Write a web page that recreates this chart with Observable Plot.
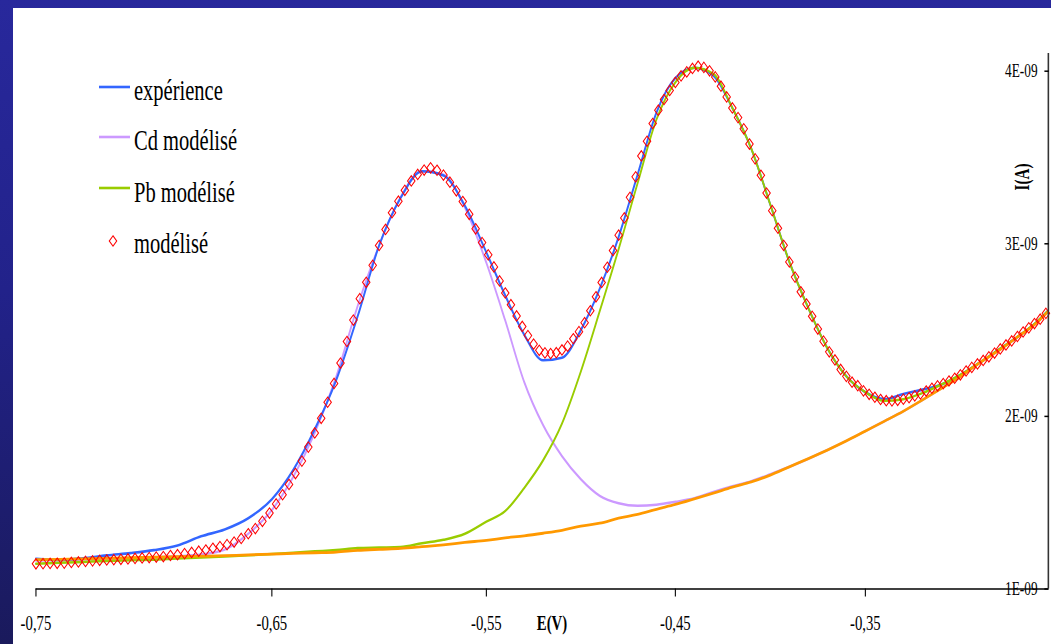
<!DOCTYPE html>
<html><head><meta charset="utf-8">
<script src="https://cdn.jsdelivr.net/npm/d3@7"></script>
<script src="https://cdn.jsdelivr.net/npm/@observablehq/plot@0.6"></script>
<style>
html,body{margin:0;padding:0;}
body{width:1051px;height:644px;overflow:hidden;position:relative;
  background:linear-gradient(to bottom,#28289c 0%,#22228a 45%,#1a1a5c 100%);}
#chart{position:absolute;left:13px;top:8px;width:1038px;height:636px;background:#fff;}
</style></head>
<body><div id="chart"></div>
<script>
// ---------- data ----------
const tickE = [-0.75, -0.65, -0.55, -0.45, -0.35];
const tickLabels = ["-0,75", "-0,65", "-0,55", "-0,45", "-0,35"];
const yTicks = [1, 2, 3, 4];               // ×1E-09 A
const yTickLabels = ["1E-09", "2E-09", "3E-09", "4E-09"];
const xEnd = -0.2537;

const seriesNames = ["expérience", "Cd modélisé", "Pb modélisé", "modélisé"];

const E_lines = [-0.75,-0.74,-0.73,-0.72,-0.71,-0.70,-0.69,-0.68,-0.67,-0.66,-0.65,-0.64,-0.63,-0.62,-0.61,-0.60,-0.59,-0.58,-0.57,-0.56,-0.55,-0.54,-0.53,-0.52,-0.51,-0.50,-0.49,-0.48,-0.47,-0.46,-0.45,-0.44,-0.43,-0.42,-0.41,-0.40,-0.39,-0.38,-0.37,-0.36,-0.35,-0.34,-0.33,-0.32,-0.31,-0.30,-0.29,-0.28,-0.27,-0.26,-0.254];

const I_exp = [1.175,1.168,1.178,1.195,1.208,1.225,1.252,1.305,1.345,1.41,1.52,1.69,1.925,2.21,2.58,2.99,3.265,3.42,3.396,3.22,2.95,2.70,2.474,2.325,2.34,2.50,2.74,3.04,3.40,3.76,3.96,4.02,3.975,3.787,3.55,3.226,2.895,2.627,2.395,2.232,2.14,2.10,2.13,2.155,2.185,2.24,2.31,2.385,2.46,2.545,2.61];

const I_cd = [1.165,1.168,1.171,1.175,1.178,1.184,1.19,1.20,1.228,1.32,1.457,1.65,1.905,2.23,2.64,2.99,3.27,3.42,3.40,3.21,2.89,2.555,2.20,1.95,1.77,1.636,1.54,1.497,1.482,1.488,1.505,1.526,1.562,1.595,1.625,1.665,1.708,1.755,1.805,1.858,1.915,1.972,2.03,2.095,2.162,2.23,2.31,2.38,2.46,2.54,2.605];

const I_pb = [1.147,1.152,1.157,1.162,1.166,1.17,1.177,1.183,1.189,1.195,1.203,1.21,1.218,1.226,1.237,1.24,1.243,1.265,1.285,1.32,1.39,1.452,1.585,1.745,1.958,2.26,2.61,2.97,3.35,3.72,3.935,4.02,3.985,3.787,3.55,3.226,2.895,2.627,2.395,2.232,2.14,2.09,2.10,2.135,2.185,2.24,2.31,2.385,2.46,2.545,2.61];

const I_base = [1.17,1.172,1.175,1.178,1.181,1.184,1.187,1.19,1.193,1.198,1.202,1.206,1.21,1.214,1.224,1.23,1.235,1.245,1.256,1.27,1.282,1.296,1.308,1.323,1.34,1.364,1.381,1.41,1.432,1.462,1.49,1.522,1.555,1.59,1.62,1.66,1.708,1.755,1.805,1.858,1.915,1.972,2.03,2.095,2.162,2.23,2.31,2.38,2.46,2.54,2.605];

const E_model = [-0.750,-0.747,-0.744,-0.741,-0.738,-0.735,-0.732,-0.729,-0.726,-0.723,-0.720,-0.717,-0.714,-0.711,-0.708,-0.705,-0.702,-0.699,-0.696,-0.693,-0.690,-0.687,-0.684,-0.681,-0.678,-0.675,-0.672,-0.669,-0.666,-0.663,-0.660,-0.657,-0.654,-0.651,
-0.648,-0.645,-0.642,-0.639,-0.636,-0.633,-0.630,-0.627,-0.624,-0.621,-0.618,-0.615,-0.612,-0.609,-0.606,-0.603,-0.600,-0.597,-0.594,-0.591,-0.588,-0.585,-0.582,-0.579,-0.576,-0.573,-0.570,-0.567,-0.564,-0.561,-0.558,-0.555,-0.552,
-0.549,-0.546,-0.543,-0.540,-0.537,-0.534,-0.531,-0.528,-0.525,-0.522,-0.519,-0.516,-0.513,-0.510,-0.507,-0.504,-0.501,-0.498,-0.495,-0.492,-0.489,-0.486,-0.483,-0.480,-0.477,-0.474,-0.471,-0.468,-0.465,-0.462,-0.459,-0.456,-0.453,
-0.450,-0.447,-0.444,-0.441,-0.438,-0.435,-0.432,-0.429,-0.426,-0.423,-0.420,-0.417,-0.414,-0.411,-0.408,-0.405,-0.402,-0.399,-0.396,-0.393,-0.390,-0.387,-0.384,-0.381,-0.378,-0.375,-0.372,-0.369,-0.366,-0.363,-0.360,-0.357,-0.354,-0.351,-0.348,-0.345,-0.342,-0.339,-0.336,-0.333,-0.330,-0.327,-0.324,-0.321,-0.318,-0.315,-0.312,-0.309,-0.306,-0.303,-0.300,-0.297,-0.294,-0.291,-0.288,-0.285,-0.282,-0.279,-0.276,-0.273,-0.270,-0.267,-0.264,-0.261,-0.258,-0.255];

const I_model = [1.146,1.147,1.148,1.149,1.150,1.154,1.157,1.160,1.163,1.166,1.168,1.170,1.172,1.174,1.177,1.180,1.182,1.185,1.188,1.194,1.199,1.205,1.212,1.219,1.226,1.236,1.246,1.257,1.272,1.293,1.320,1.350,1.392,1.440,
1.493,1.546,1.606,1.669,1.741,1.822,1.904,1.989,2.082,2.191,2.309,2.434,2.558,2.682,2.777,2.875,2.990,3.083,3.180,3.247,3.310,3.364,3.402,3.427,3.440,3.426,3.398,3.357,3.307,3.245,3.171,3.087,3.007,
2.936,2.866,2.785,2.715,2.647,2.582,2.521,2.468,2.419,2.383,2.368,2.364,2.369,2.385,2.407,2.450,2.491,2.543,2.612,2.693,2.776,2.864,2.961,3.050,3.150,3.269,3.388,3.509,3.594,3.697,3.774,3.836,3.888,
3.935,3.973,3.996,4.016,4.029,4.022,4.002,3.967,3.913,3.851,3.787,3.731,3.666,3.578,3.492,3.397,3.294,3.192,3.090,2.991,2.895,2.807,2.722,2.651,2.580,2.506,2.436,2.374,2.327,2.272,2.232,2.198,2.178,2.148,2.128,2.111,2.098,2.091,2.090,2.093,2.100,2.108,2.119,2.130,2.147,2.163,2.177,2.190,2.205,2.221,2.241,2.263,2.284,2.304,2.324,2.345,2.367,2.391,2.414,2.437,2.463,2.489,2.513,2.538,2.563,2.597];

// ---------- layout ----------
const BOX_W = 1038, H = 636;       // white area in page pixels
const W = 1442;                    // internal width (picture is horizontally compressed)
const S = BOX_W / W;
const px = p => (p - 13) / S;      // page x -> internal x
const py = p => p - 8;             // page y -> internal y
const xRange = [35.6, 271.5, 486, 675, 865, 1048].map(px);
const serif = "'Liberation Serif','Times New Roman',serif";
const C = {exp: "#3366ff", cd: "#cc99ff", pb: "#99cc00", base: "#ff9900", model: "#ff0000"};

const n = Math.min(E_model.length, I_model.length);
const Em = E_model.slice(0, n), Im = I_model.slice(0, n);

const chart = Plot.plot({
  width: W, height: H,
  marginLeft: xRange[0], marginRight: W - xRange[5],
  marginTop: py(53), marginBottom: H - py(588.5),
  style: {fontFamily: serif, color: "#000", background: "transparent"},
  x: {type: "linear", domain: [...tickE, xEnd], range: xRange},
  y: {type: "linear", domain: [1, 4.1025], range: [py(588.5), py(53)]},
  marks: [
    Plot.line(E_lines, {x: E_lines, y: I_cd, stroke: C.cd, strokeWidth: 2.5, curve: "monotone-x"}),
    Plot.line(E_lines, {x: E_lines, y: I_exp, stroke: C.exp, strokeWidth: 2.6, curve: "monotone-x"}),
    Plot.line(E_lines, {x: E_lines, y: I_pb, stroke: C.pb, strokeWidth: 2.5, curve: "monotone-x"}),
    Plot.line(E_lines, {x: E_lines, y: I_base, stroke: C.base, strokeWidth: 2.8, curve: "monotone-x"}),
    Plot.dot(Em, {x: Em, y: Im, symbol: "diamond2", r: 4.7, stroke: C.model, strokeWidth: 1.25, fill: "none"}),
    Plot.ruleY([1], {stroke: "#000", strokeWidth: 1.6}),
    Plot.ruleX([xEnd], {stroke: "#333", strokeWidth: 2.2}),
    Plot.axisX({ticks: tickE, tickFormat: d => tickLabels[tickE.indexOf(d)], tickSize: 8, tickPadding: 18, fontSize: 20.5, strokeWidth: 1.5}),
    Plot.axisY({anchor: "right", ticks: yTicks, tickFormat: d => yTickLabels[yTicks.indexOf(d)], tickSize: -6, tickPadding: -9, textAnchor: "end", fontSize: 18.5, strokeWidth: 1.5})
  ]
});

chart.setAttribute("viewBox", `0 0 ${W} ${H}`);
chart.setAttribute("preserveAspectRatio", "none");
chart.setAttribute("width", BOX_W);
chart.setAttribute("height", H);
chart.style.width = BOX_W + "px";
chart.style.height = H + "px";
chart.style.maxWidth = "none";
chart.style.display = "block";

const svg = d3.select(chart);
// axis titles
svg.append("text").attr("x", px(552)).attr("y", py(630)).attr("text-anchor", "middle")
  .attr("font-family", serif).attr("font-weight", "bold").attr("font-size", 20.5).attr("fill", "#000").text("E(V)");
svg.append("text").attr("transform", `translate(${px(1022)},${py(177)}) scale(${1 / S},1) rotate(-90) scale(0.76,1)`)
  .attr("text-anchor", "middle").attr("dy", "0.35em")
  .attr("font-family", serif).attr("font-weight", "bold").attr("font-size", 20).attr("fill", "#000").text("I(A)");

// legend
const legendColors = [C.exp, C.cd, C.pb, C.model];
const legendLineY = [87, 137, 188, 241];
const legendBaseY = [100, 150, 202, 253];
const lg = svg.append("g").attr("text-anchor", "start");
seriesNames.forEach((name, i) => {
  if (i < 3) {
    lg.append("line").attr("x1", px(99)).attr("x2", px(130))
      .attr("y1", py(legendLineY[i])).attr("y2", py(legendLineY[i]))
      .attr("stroke", legendColors[i]).attr("stroke-width", 2.6);
  } else {
    lg.append("path").attr("d", d3.symbol(d3.symbolDiamond2, Math.PI * 4.7 * 4.7)())
      .attr("transform", `translate(${px(113)},${py(legendLineY[i])})`)
      .attr("fill", "none").attr("stroke", legendColors[i]).attr("stroke-width", 1.25);
  }
  lg.append("text").attr("x", px(134)).attr("y", py(legendBaseY[i])).attr("text-anchor", "start")
    .attr("font-family", serif).attr("font-size", 28.5).attr("fill", "#000").text(name);
});

document.getElementById("chart").appendChild(chart);
</script>
</body></html>
